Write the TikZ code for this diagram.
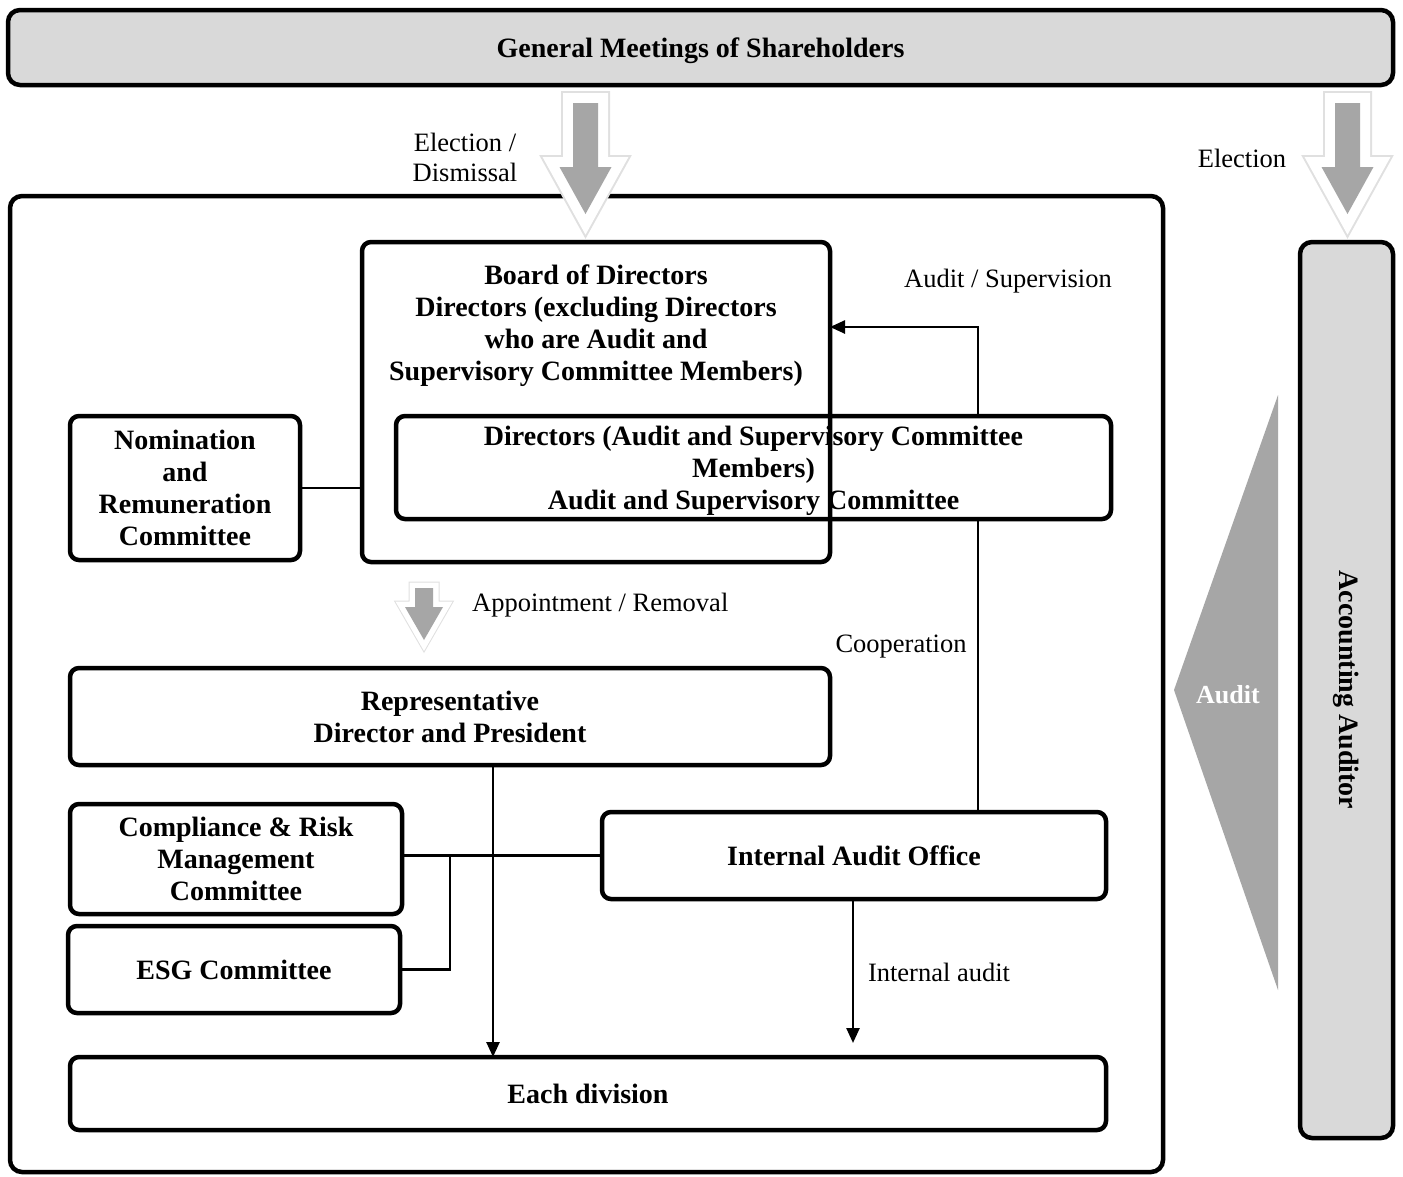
\documentclass[tikz,border=0pt]{standalone}
\usepackage{fontspec}
\setmainfont{Liberation Serif}
\usetikzlibrary{arrows.meta}
\definecolor{bargray}{HTML}{D9D9D9}
\definecolor{arrgray}{HTML}{A6A6A6}
\begin{document}
\begin{tikzpicture}[x=1pt,y=1pt,
  box/.style={draw=black, line width=4.5pt, rounded corners=9pt, inner sep=0pt, outer sep=0pt,
    align=center, font=\fontsize{28}{32}\selectfont\bfseries},
  btxt/.style={align=center, inner sep=0pt, font=\fontsize{28}{32}\selectfont\bfseries},
  ltxt/.style={align=center, inner sep=0pt, font=\fontsize{26.5}{30}\selectfont},
  conn/.style={line width=2.5pt, draw=black},
  arr/.style={conn, -{Triangle[length=15pt,width=13pt]}},
  arrshadow/.style={draw=black!12, line width=#1, line join=miter},
  arrwhite/.style={draw=white, line width=#1, line join=miter},
  arrfill/.style={fill=arrgray}
]
\useasboundingbox (0,0) rectangle (1403,-1176);
\fill[white] (0,0) rectangle (1403,-1176);

% top bar
\node[box, fill=bargray, rounded corners=12pt, minimum width=1385, minimum height=75] (gms) at (700.5,-47.5) {};
\node[btxt] (gmstxt) at (700.5,-51) {General Meetings of Shareholders};

% main frame
\node[box, fill=white, rounded corners=12pt, minimum width=1153, minimum height=976] (frame) at (586.5,-684) {};

% accounting auditor
\node[box, fill=bargray, rounded corners=12pt, minimum width=93, minimum height=896] (aa) at (1346.5,-690) {};
\node[btxt, rotate=-90] (aatxt) at (aa.center) {Accounting Auditor};

% audit triangle
\fill[arrgray] (1278,-395) -- (1278,-990) -- (1174,-690) -- cycle;
\node[btxt, text=white, font=\fontsize{26}{30}\selectfont\bfseries] (audittxt) at (1228,-695) {Audit};

% big arrows
\foreach \cx in {585.5,1347.5}{
  \path[arrshadow=24] (\cx-12.5,-103) -- (\cx+12.5,-103) -- (\cx+12.5,-167) -- (\cx+26,-167) -- (\cx,-214) -- (\cx-26,-167) -- (\cx-12.5,-167) -- cycle;
  \path[arrwhite=20] (\cx-12.5,-103) -- (\cx+12.5,-103) -- (\cx+12.5,-167) -- (\cx+26,-167) -- (\cx,-214) -- (\cx-26,-167) -- (\cx-12.5,-167) -- cycle;
  \path[arrfill] (\cx-12.5,-103) -- (\cx+12.5,-103) -- (\cx+12.5,-167) -- (\cx+26,-167) -- (\cx,-214) -- (\cx-26,-167) -- (\cx-12.5,-167) -- cycle;
}
\path[arrshadow=13] (415,-588) -- (433,-588) -- (433,-607) -- (443,-607) -- (424,-640) -- (405,-607) -- (415,-607) -- cycle;
\path[arrwhite=11] (415,-588) -- (433,-588) -- (433,-607) -- (443,-607) -- (424,-640) -- (405,-607) -- (415,-607) -- cycle;
\path[arrfill] (415,-588) -- (433,-588) -- (433,-607) -- (443,-607) -- (424,-640) -- (405,-607) -- (415,-607) -- cycle;

\node[ltxt] (elecdis) at (465,-157) {Election /\\Dismissal};
\node[ltxt] (elec) at (1242,-158) {Election};

% board
\node[box, minimum width=468, minimum height=320] (board) at (596,-402) {};
\node[btxt] (boardtxt) at (596,-326) {Board of Directors\\Directors (excluding Directors\\who are Audit and\\Supervisory Committee Members)};

% ASC
\node[box, minimum width=715, minimum height=103] (asc) at (753.5,-467.5) {};
\node[btxt] (asctxt) at (753.5,-471) {Directors (Audit and Supervisory Committee\\Members)\\Audit and Supervisory Committee};

% nomination
\node[box, minimum width=230, minimum height=144] (nom) at (185,-488) {Nomination\\and\\Remuneration\\Committee};

% representative
\node[box, minimum width=760, minimum height=97] (rep) at (450,-716.5) {Representative\\Director and President};

% compliance
\node[box, minimum width=332, minimum height=110] (crm) at (236,-859) {Compliance \& Risk\\Management\\Committee};
\node[box, minimum width=332, minimum height=87] (esg) at (234,-969.5) {ESG Committee};

% internal audit office
\node[box, minimum width=504, minimum height=87] (iao) at (854,-855.5) {Internal Audit Office};

% each division
\node[box, minimum width=1036, minimum height=73] (div) at (588,-1093.5) {Each division};

% labels
\node[ltxt] (lbl1) at (1008,-281) {Audit / Supervision};
\node[ltxt] (lbl2) at (901,-647) {Cooperation};
\node[ltxt, anchor=west] (lbl3) at (472,-605) {Appointment / Removal};
\node[ltxt] (lbl4) at (939,-972) {Internal audit};

% coordinates
\coordinate (cx) at (978,0);
\coordinate (ay) at (0,-327);
\coordinate (rx) at (493,0);
\coordinate (jx) at (450,-855.5);
\coordinate (ix) at (853,0);
\coordinate (iaend) at (853,-1043);

% connectors
\draw[conn] (nom.east) -- (nom.east -| board.west);
\draw[arr] (asc.north -| cx) |- (board.east |- ay);
\draw[conn] (asc.south -| cx) -- (iao.north -| cx);
\draw[arr] (rep.south -| rx) -- (div.north -| rx);
\draw[conn] (iao.west -| crm.east) -- (iao.west);
\draw[conn] (esg.east) -| (jx);
\draw[arr] (iao.south -| ix) -- (iaend);
\end{tikzpicture}
\end{document}
